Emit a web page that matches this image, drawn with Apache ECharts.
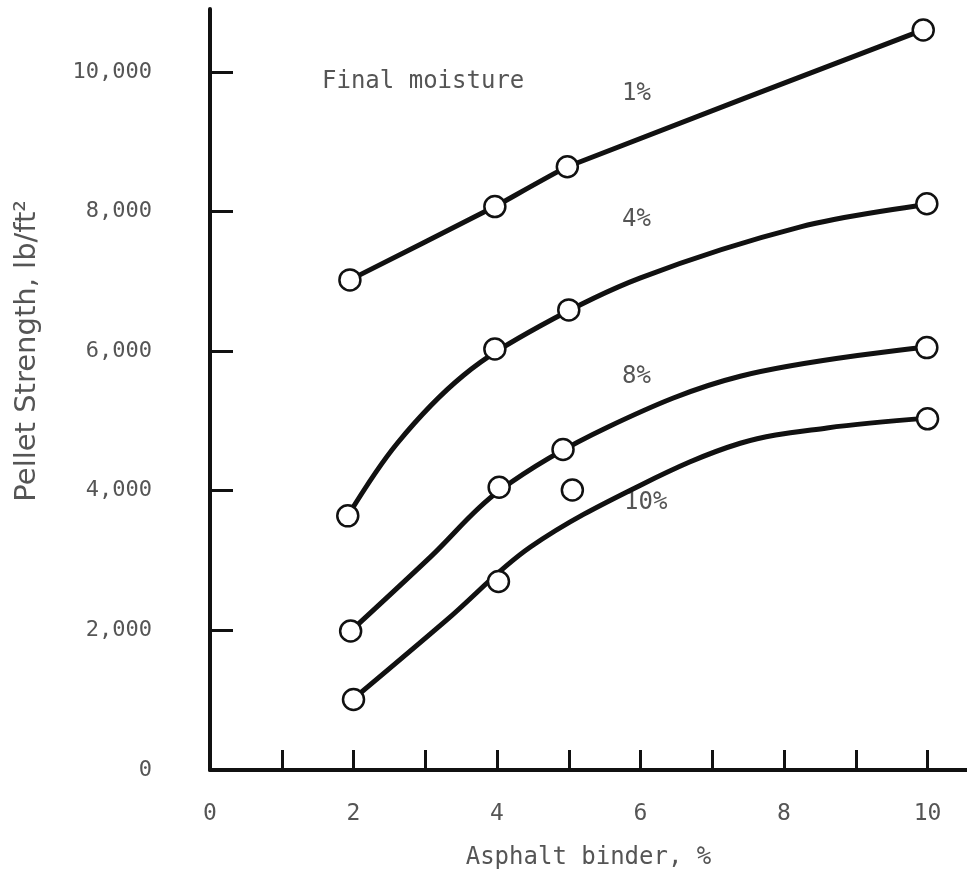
<!DOCTYPE html>
<html>
<head>
<meta charset="utf-8">
<script src="https://cdn.jsdelivr.net/npm/echarts@6/dist/echarts.min.js"></script>
<style>
html, body { margin: 0; padding: 0; background: #fff; }
#pellet { width: 967px; height: 882px; }
</style>
</head>
<body>
<div id="pellet"></div>
<script>
// tick values
var xLabelTicks = [0, 2, 4, 6, 8, 10];
var xMarkTicks = [1, 2, 3, 4, 5, 6, 7, 8, 9, 10];
var yLabelTicks = [0, 2000, 4000, 6000, 8000, 10000];
var yMarkTicks = [2000, 4000, 6000, 8000, 10000];

// measured points (asphalt binder %, pellet strength lb/ft2)
var binder1 = [1.95, 3.97, 4.98, 9.94];
var strength1 = [7020, 8070, 8640, 10600];
var binder4 = [1.92, 3.97, 5.0, 9.99];
var strength4 = [3640, 6030, 6590, 8110];
var binder8 = [1.96, 4.03, 4.92, 9.99];
var strength8 = [1990, 4050, 4590, 6050];
var binder10 = [2.0, 4.02, 10.0];
var strength10 = [1010, 2700, 5030];
var binderOdd = [5.05];
var strengthOdd = [4010];

// fitted curves
var curve1X = [1.95, 3.97, 4.98, 9.94];
var curve1Y = [7020, 8070, 8640, 10600];
var curve4X = [1.92, 2.61, 3.53, 4.6, 6.0, 8.23, 9.99];
var curve4Y = [3640, 4680, 5650, 6360, 7050, 7780, 8100];
var curve8X = [1.96, 3.07, 4.03, 5.54, 7.39, 9.99];
var curve8Y = [1990, 3050, 4000, 4910, 5640, 6060];
var curve10X = [2.0, 3.3, 4.46, 6.0, 7.39, 8.6, 10.0];
var curve10Y = [1020, 2150, 3190, 4080, 4680, 4900, 5040];

function pairs(xs, ys) {
  return xs.map(function (x, i) { return [x, ys[i]]; });
}

var mono = 'DejaVu Sans Mono';
var textGray = '#555';
var ink = '#111';

function curve(name, xs, ys, smooth) {
  return {
    name: name,
    type: 'line',
    data: pairs(xs, ys),
    smooth: smooth,
    symbol: 'none',
    lineStyle: { color: ink, width: 5 },
    z: 2
  };
}

function points(name, xs, ys) {
  return {
    name: name,
    type: 'scatter',
    data: pairs(xs, ys),
    symbol: 'circle',
    symbolSize: 21,
    itemStyle: { color: '#fff', borderColor: ink, borderWidth: 2.5, opacity: 1 },
    z: 3
  };
}

function note(text, x, y) {
  return {
    type: 'text', x: x, y: y,
    style: { text: text, font: '24px "DejaVu Sans Mono"', fill: textGray }
  };
}

var chart = echarts.init(document.getElementById('pellet'));
var options = {
  backgroundColor: '#fff',
  animation: false,
  grid: {
    left: 210,
    right: 0,
    top: 9,
    bottom: 112,
    containLabel: false,
    outerBoundsMode: 'none'
  },
  xAxis: {
    type: 'value',
    min: 0,
    max: 10.55,
    name: 'Asphalt binder, %',
    nameLocation: 'middle',
    nameGap: 76,
    nameTextStyle: { fontFamily: mono, fontSize: 24, color: textGray },
    axisLine: { lineStyle: { color: ink, width: 4 } },
    axisTick: {
      inside: true,
      length: 20,
      lineStyle: { color: ink, width: 3 },
      customValues: xMarkTicks
    },
    axisLabel: {
      margin: 33,
      fontFamily: mono,
      fontSize: 23,
      color: textGray,
      customValues: xLabelTicks
    },
    splitLine: { show: false }
  },
  yAxis: {
    type: 'value',
    min: 0,
    max: 10900,
    axisLine: { show: true, lineStyle: { color: ink, width: 4 } },
    axisTick: {
      show: true,
      inside: true,
      length: 23,
      lineStyle: { color: ink, width: 3 },
      customValues: yMarkTicks
    },
    axisLabel: {
      margin: 58,
      fontFamily: mono,
      fontSize: 22,
      color: textGray,
      customValues: yLabelTicks,
      formatter: function (v) { return v.toLocaleString('en-US'); }
    },
    splitLine: { show: false }
  },
  graphic: [
    {
      type: 'text',
      left: 13,
      top: 200,
      rotation: Math.PI / 2,
      style: {
        text: 'Pellet Strength, lb/ft²',
        font: '29px "DejaVu Sans"',
        fill: '#555'
      }
    },
    note('Final moisture', 322, 70),
    note('1%', 622, 82),
    note('4%', 622, 208),
    note('8%', 622, 365),
    note('10%', 624, 491)
  ],
  series: [
    curve('1%', curve1X, curve1Y, 0.1),
    curve('4%', curve4X, curve4Y, 0.35),
    curve('8%', curve8X, curve8Y, 0.35),
    curve('10%', curve10X, curve10Y, 0.35),
    points('1% data', binder1, strength1),
    points('4% data', binder4, strength4),
    points('8% data', binder8, strength8),
    points('10% data', binder10, strength10),
    points('10% extra', binderOdd, strengthOdd)
  ]
};
chart.setOption(options);
</script>
</body>
</html>
